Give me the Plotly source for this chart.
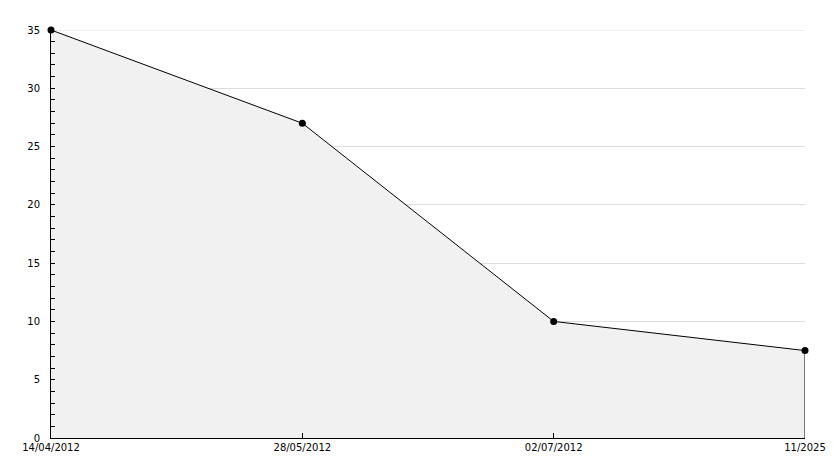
import plotly.graph_objects as go

categories = ["14/04/2012", "28/05/2012", "02/07/2012", "11/2025"]
values = [35, 27, 10, 7.5]
y_ticks = [0, 5, 10, 15, 20, 25, 30, 35]

fig = go.Figure()
fig.add_trace(go.Scatter(
    x=categories, y=values, mode="lines+markers",
    fill="tozeroy", fillcolor="#f1f1f1",
    line=dict(color="black", width=1),
    marker=dict(color="black", size=7, symbol="circle"),
    hoverinfo="skip", showlegend=False, cliponaxis=False,
))
# closing vertical edge of the filled area at the last category
fig.add_trace(go.Scatter(
    x=[categories[-1], categories[-1]], y=[0, values[-1]], mode="lines",
    line=dict(color="black", width=1), hoverinfo="skip", showlegend=False,
    cliponaxis=False,
))
# top gridline (at the range edge plotly does not draw it)
fig.add_shape(type="line", xref="paper", yref="y", x0=0, x1=1,
              y0=y_ticks[-1], y1=y_ticks[-1], layer="below",
              line=dict(color="#dddddd", width=1))

font = dict(family="DejaVu Sans", size=10, color="black")
fig.update_layout(
    width=826, height=460,
    margin=dict(l=43, r=29, t=22, b=30, autoexpand=False),
    paper_bgcolor="white", plot_bgcolor="white",
    font=font,
    xaxis=dict(
        type="category", range=[0, len(categories) - 1], automargin=False,
        showgrid=False, showline=True, linecolor="black", linewidth=1,
        ticks="inside", ticklen=5, tickcolor="black",
        tickfont=font, zeroline=False,
    ),
    yaxis=dict(
        range=[0, 35], tickvals=y_ticks, automargin=False,
        showgrid=True, gridcolor="#dddddd", gridwidth=1,
        showline=True, linecolor="black", linewidth=1,
        ticks="inside", ticklen=4, tickcolor="black",
        minor=dict(dtick=1, ticks="inside", ticklen=4, tickcolor="black", showgrid=False),
        tickfont=font, zeroline=False, ticklabelstandoff=8,
    ),
)
fig.write_html("out.html")
